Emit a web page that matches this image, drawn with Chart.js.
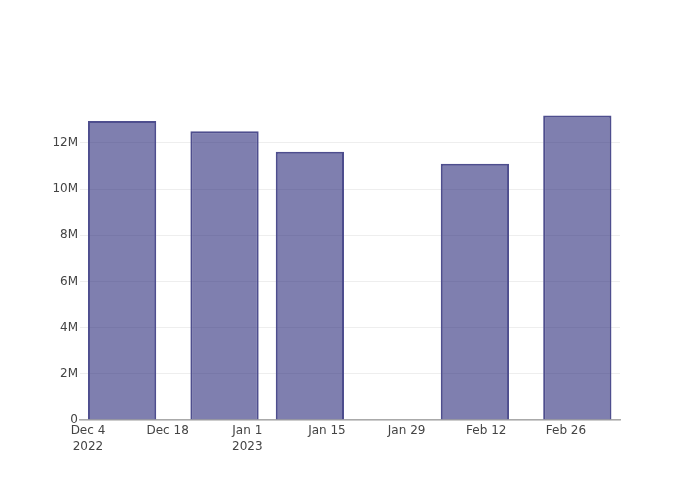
<!DOCTYPE html>
<html>
<head>
<meta charset="utf-8">
<script src="https://cdn.jsdelivr.net/npm/chart.js@4"></script>
<style>
  html, body { margin: 0; padding: 0; background: #fff; }
  #wrap { width: 700px; height: 500px; }
</style>
</head>
<body>
<div id="wrap"><canvas id="chart" width="700" height="500"></canvas></div>
<script>
// data
const barDates = ['2022-12-10', '2022-12-28', '2023-01-12', '2023-02-10', '2023-02-28'];
const barValues = [12.95e6, 12.51e6, 11.62e6, 11.10e6, 13.19e6];
const tickDates = ['2022-12-04', '2022-12-18', '2023-01-01', '2023-01-15', '2023-01-29', '2023-02-12', '2023-02-26'];
const yTicks = [0, 2e6, 4e6, 6e6, 8e6, 10e6, 12e6];
const monthNames = ['Jan', 'Feb', 'Mar', 'Apr', 'May', 'Jun', 'Jul', 'Aug', 'Sep', 'Oct', 'Nov', 'Dec'];

const DAY = 86400000;
function ts(s) {
    const p = s.split('-').map(Number);
    return Date.UTC(p[0], p[1] - 1, p[2]);
}

// axis range, a little padding round the bars as plotly does
const xMin = ts('2022-12-04') - 1.4 * DAY;
const xMax = ts('2022-12-04') + 93.5 * DAY;

// bar width = 0.8 of the smallest gap between bars (15 days);
// chart.js measures against the 14 day tick step, so scale it
const barPct = 0.8 * 15 / 14;

const FONT = '"DejaVu Sans", sans-serif';

function fmtTick(v, i) {
    const d = new Date(v);
    const label = monthNames[d.getUTCMonth()] + ' ' + d.getUTCDate();
    const prev = i > 0 ? new Date(v - 14 * DAY) : null;
    if (i === 0 || prev.getUTCFullYear() !== d.getUTCFullYear()) {
        return [label, String(d.getUTCFullYear())];
    }
    return label;
}

new Chart(document.getElementById('chart'), {
    type: 'bar',
    data: {
        datasets: [{
            data: barDates.map((d, i) => ({ x: ts(d), y: barValues[i] })),
            backgroundColor: 'rgba(42, 42, 122, 0.6)',
            borderColor: 'rgb(78, 78, 142)',
            borderWidth: 2,
            borderSkipped: 'bottom',
            categoryPercentage: 1,
            barPercentage: barPct
        }]
    },
    options: {
        responsive: false,
        animation: false,
        layout: { padding: { top: 100, right: 80, left: 0, bottom: 0 } },
        plugins: { legend: { display: false }, tooltip: { enabled: false } },
        scales: {
            x: {
                type: 'linear',
                min: xMin,
                max: xMax,
                offset: false,
                afterBuildTicks: scale => {
                    scale.ticks = tickDates.map(d => ({ value: ts(d) }));
                },
                afterFit: scale => { scale.height = 80; },
                grid: { display: false, drawTicks: false },
                border: { display: true, color: '#aaaaaa', width: 1.5 },
                ticks: {
                    autoSkip: false,
                    maxRotation: 0,
                    padding: 3,
                    color: '#444',
                    font: { family: FONT, size: 12, lineHeight: 1.3 },
                    callback: (v, i) => fmtTick(v, i)
                }
            },
            y: {
                min: 0,
                max: 13.86e6,
                afterBuildTicks: scale => {
                    scale.ticks = yTicks.map(v => ({ value: v }));
                },
                afterFit: scale => { scale.width = 80; },
                grid: { color: '#eeeeee', lineWidth: 1, drawTicks: false },
                border: { display: false },
                ticks: {
                    padding: 2,
                    color: '#444',
                    font: { family: FONT, size: 12 },
                    callback: v => v === 0 ? '0' : (v / 1e6) + 'M'
                }
            }
        }
    }
});
</script>
</body>
</html>
